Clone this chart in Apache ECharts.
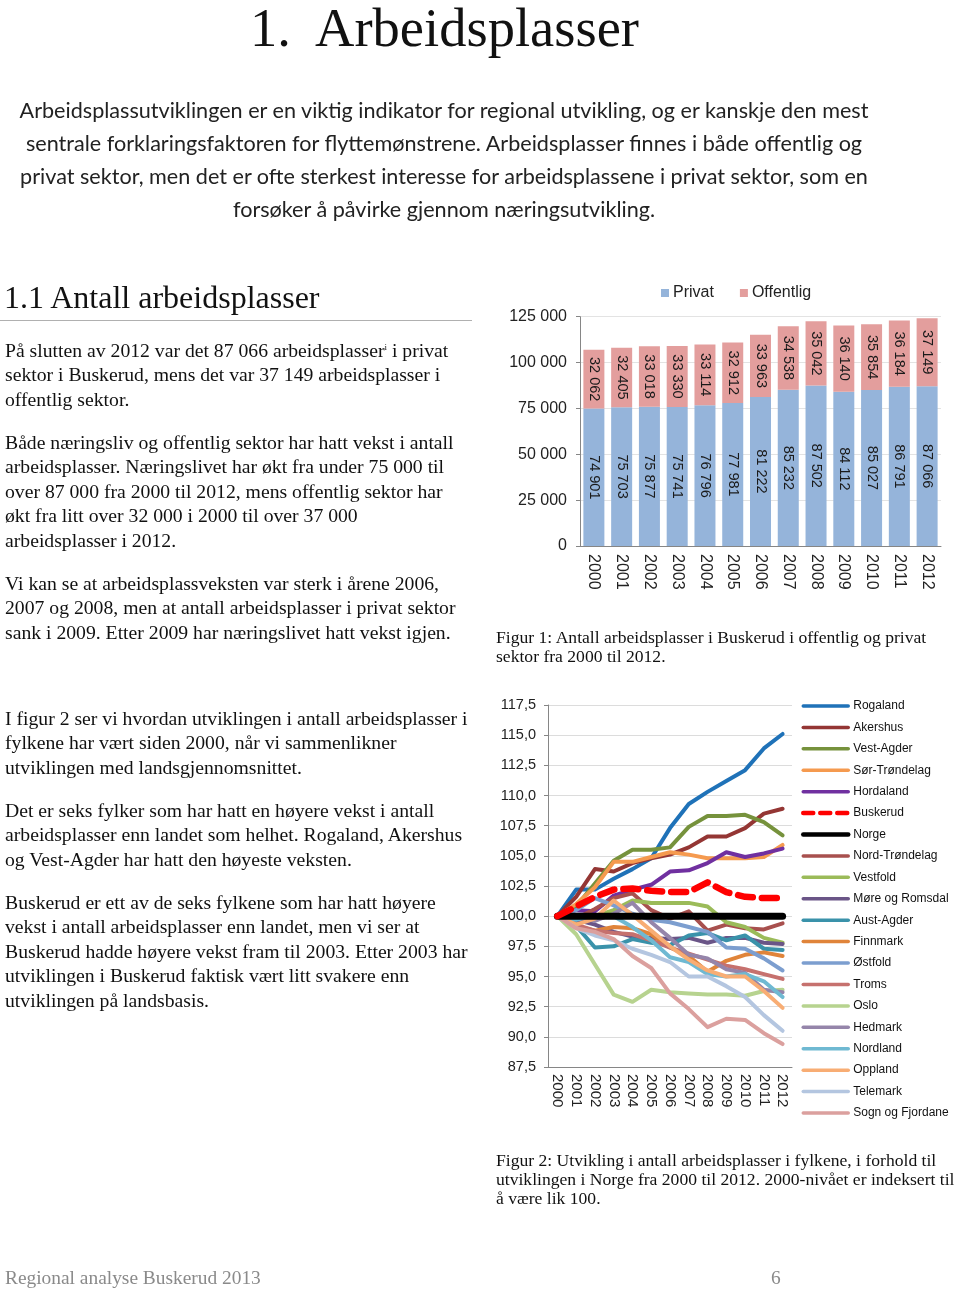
<!DOCTYPE html>
<html><head><meta charset="utf-8">
<script src="https://cdn.jsdelivr.net/npm/echarts@6/dist/echarts.min.js"></script>
<style>
html,body{margin:0;padding:0;background:#fff;}
#page{position:relative;width:960px;height:1289px;overflow:hidden;}
#c{position:absolute;left:0;top:0;width:960px;height:1289px;}
.t{position:absolute;white-space:nowrap;color:#111;}
.serif{font-family:"Liberation Serif","DejaVu Serif",serif;}
.body{font-size:19.7px;line-height:24.6px;}
.cap{font-size:17.6px;line-height:19px;}
.intro{font-family:Lato,"Open Sans",sans-serif;font-size:21.6px;color:#222;text-align:center;width:960px;left:-36px;}
</style></head>
<body><div id="page">
<div id="c"></div>

<div class="t serif" style="left:0;width:889px;text-align:center;top:-5px;font-size:54.5px;line-height:66px;color:#111;">1.&nbsp; Arbeidsplasser</div>

<div class="t intro" style="top:94px;line-height:33px;">Arbeidsplassutviklingen er en viktig indikator for regional utvikling, og er kanskje den mest<br>sentrale forklaringsfaktoren for flyttemønstrene. Arbeidsplasser finnes i både offentlig og<br>privat sektor, men det er ofte sterkest interesse for arbeidsplassene i privat sektor, som en<br>forsøker å påvirke gjennom næringsutvikling.</div>

<div class="t serif" style="left:4px;top:278px;font-size:32px;line-height:38px;">1.1 Antall arbeidsplasser</div>
<div style="position:absolute;left:0;top:320px;width:472px;height:1px;background:#b0b0b0;"></div>

<div class="t serif body" style="left:5px;top:337.7px;">På slutten av 2012 var det 87 066 arbeidsplasser<sup style="font-size:9px;vertical-align:7px;line-height:0">i</sup> i privat<br>sektor i Buskerud, mens det var 37 149 arbeidsplasser i<br>offentlig sektor.</div>
<div class="t serif body" style="left:5px;top:429.7px;">Både næringsliv og offentlig sektor har hatt vekst i antall<br>arbeidsplasser. Næringslivet har økt fra under 75 000 til<br>over 87 000 fra 2000 til 2012, mens offentlig sektor har<br>økt fra litt over 32 000 i 2000 til over 37 000<br>arbeidsplasser i 2012.</div>
<div class="t serif body" style="left:5px;top:570.7px;">Vi kan se at arbeidsplassveksten var sterk i årene 2006,<br>2007 og 2008, men at antall arbeidsplasser i privat sektor<br>sank i 2009. Etter 2009 har næringslivet hatt vekst igjen.</div>

<div class="t serif cap" style="left:496px;top:627.5px;">Figur 1: Antall arbeidsplasser i Buskerud i offentlig og privat<br>sektor fra 2000 til 2012.</div>

<div class="t serif body" style="left:5px;top:705.7px;">I figur 2 ser vi hvordan utviklingen i antall arbeidsplasser i<br>fylkene har vært siden 2000, når vi sammenlikner<br>utviklingen med landsgjennomsnittet.</div>
<div class="t serif body" style="left:5px;top:797.7px;">Det er seks fylker som har hatt en høyere vekst i antall<br>arbeidsplasser enn landet som helhet. Rogaland, Akershus<br>og Vest-Agder har hatt den høyeste veksten.</div>
<div class="t serif body" style="left:5px;top:889.7px;">Buskerud er ett av de seks fylkene som har hatt høyere<br>vekst i antall arbeidsplasser enn landet, men vi ser at<br>Buskerud hadde høyere vekst fram til 2003. Etter 2003 har<br>utviklingen i Buskerud faktisk vært litt svakere enn<br>utviklingen på landsbasis.</div>

<div class="t serif cap" style="left:496px;top:1150.5px;">Figur 2: Utvikling i antall arbeidsplasser i fylkene, i forhold til<br>utviklingen i Norge fra 2000 til 2012. 2000-nivået er indeksert til<br>å være lik 100.</div>

<div class="t serif" style="left:5px;top:1266px;font-size:19.4px;line-height:24px;color:#8a8a8a;">Regional analyse Buskerud 2013</div>
<div class="t serif" style="left:771px;top:1266px;font-size:19.4px;line-height:24px;color:#8a8a8a;">6</div>
</div>
<script>
// ---------- Figure 1 data ----------
const years = ['2000','2001','2002','2003','2004','2005','2006','2007','2008','2009','2010','2011','2012'];
const privat = [74901,75703,75877,75741,76796,77981,81222,85232,87502,84112,85027,86791,87066];
const offentlig = [32062,32405,33018,33330,33114,32912,33963,34538,35042,36140,35854,36184,37149];

// ---------- Figure 2 data (index, 2000 = 100) ----------
const rogaland      = [100,102.2,102.2,103.1,103.9,104.8,107.3,109.3,110.3,111.2,112.1,113.9,115.1];
const akershus      = [100,101.6,103.9,103.7,104.4,104.8,105.1,105.7,106.6,106.6,107.3,108.5,108.9];
const vestAgder     = [100,100.8,102.7,104.6,105.5,105.5,105.7,107.4,108.3,108.3,108.4,107.8,106.7];
const sorTrondelag  = [100,101.0,102.4,104.5,104.5,104.9,105.3,105.1,104.8,104.8,104.8,104.9,105.9];
const hordaland     = [100,100.5,100.4,101.7,102.2,102.6,103.7,103.8,104.4,105.3,104.9,105.2,105.6];
const buskerud      = [100,100.8,101.6,102.2,102.3,102.1,102.0,102.0,102.8,102.0,101.6,101.5,101.5];
const norge         = [100,100,100,100,100,100,100,100,100,100,100,100,100];
const nordTrondelag = [100,99.8,100.6,101.5,101.9,100.5,99.8,100.4,98.8,99.3,99.0,98.9,99.4];
const vestfold      = [100,99.6,100.0,100.5,101.3,101.1,101.1,101.1,100.8,99.5,99.1,98.2,97.8];
const moreRomsdal   = [100,99.7,99.3,98.7,98.3,98.2,98.1,98.2,97.8,98.2,98.2,97.8,97.7];
const austAgder     = [100,99.2,97.4,97.5,98.1,97.8,97.6,98.4,98.6,98.0,98.4,97.3,97.2];
const finnmark      = [100,99.2,98.8,99.1,99.0,98.5,97.4,96.7,95.4,96.3,96.8,97.0,96.7];
const ostfold       = [100,100.5,101.5,100.9,100.2,99.7,99.5,99.1,98.7,97.4,97.3,96.5,95.5];
const troms         = [100,99.3,98.8,98.6,98.5,98.0,97.4,96.9,96.4,95.9,95.6,95.2,94.8];
const oslo          = [100,98.5,96.0,93.5,92.9,93.9,93.7,93.6,93.5,93.5,93.4,93.8,93.9];
const hedmark       = [100,100.0,99.6,100.2,101.1,99.5,98.2,96.8,96.5,95.6,95.3,93.9,93.7];
const nordland      = [100,99.7,100.1,100.0,99.1,98.0,96.6,96.2,95.2,95.0,95.2,94.6,93.3];
const oppland       = [100,99.3,99.8,101.3,100.1,98.8,97.5,96.4,95.5,95.0,95.0,93.8,92.4];
const telemark      = [100,99.0,98.4,98.0,97.3,96.8,96.2,95.0,95.0,94.2,93.3,91.8,90.5];
const sognFjordane  = [100,99.0,98.7,98.1,96.7,95.7,93.6,92.3,90.8,91.5,91.4,90.3,89.4];

const regionNames = ['Rogaland','Akershus','Vest-Agder','Sør-Trøndelag','Hordaland','Buskerud','Norge','Nord-Trøndelag','Vestfold','Møre og Romsdal','Aust-Agder','Finnmark','Østfold','Troms','Oslo','Hedmark','Nordland','Oppland','Telemark','Sogn og Fjordane'];
const regionData = [rogaland,akershus,vestAgder,sorTrondelag,hordaland,buskerud,norge,nordTrondelag,vestfold,moreRomsdal,austAgder,finnmark,ostfold,troms,oslo,hedmark,nordland,oppland,telemark,sognFjordane];
const regionColors = ['#1f72b8','#943634','#76923c','#f59a4f','#7030a0','#ff0000','#000000','#a8504e','#9bbb59','#6a5587','#3a92aa','#e0843a','#7c9ecf','#c6716e','#b7d38f','#9585aa','#6fb9d2','#f8ad74','#b4c6e0','#dba09e'];

const SANS = '"Liberation Sans", Arial, sans-serif';
const fmt = v => String(v).replace(/\B(?=(\d{3})+(?!\d))/g, ' ');

const chart = echarts.init(document.getElementById('c'), null, {renderer:'canvas', width:960, height:1289});

const lineSeries = regionNames.map((name, i) => {
  const isB = name === 'Buskerud', isN = name === 'Norge';
  return {
    name, type:'line', xAxisIndex:1, yAxisIndex:1, data: regionData[i],
    symbol:'none', silent:true, z: isB ? 5 : (isN ? 4 : 3),
    lineStyle:{color: regionColors[i], width: isB ? 6.5 : (isN ? 7 : 4), type: isB ? [15,9] : 'solid', cap:'round', join:'round'},
    itemStyle:{color: regionColors[i]}
  };
});

const legendItems = regionNames.map(name => {
  if (name === 'Buskerud') return {name, lineStyle:{width:4.5, type:[10,7], cap:'round'}};
  if (name === 'Norge') return {name, lineStyle:{width:4.5, cap:'round'}};
  return {name, lineStyle:{width:3.5, cap:'round'}};
});

const option = {
  animation:false,
  legend:[
    {data:['Privat','Offentlig'], left:661, top:285, padding:0, icon:'rect', itemWidth:8, itemHeight:8, itemGap:26,
     textStyle:{fontFamily:SANS, fontSize:16, color:'#222', padding:[0,0,0,-1]}},
    {data:legendItems, orient:'vertical', left:801, top:700, padding:0, itemWidth:45, itemHeight:14, itemGap:9.42,
     itemStyle:{opacity:0, borderWidth:0}, lineStyle:{width:3.5, cap:'round'},
     textStyle:{fontFamily:SANS, fontSize:12, color:'#111', padding:[0,0,0,0]}}
  ],
  grid:[
    {left:580, top:316.7, width:361, height:229.3},
    {left:548, top:705, width:244, height:362}
  ],
  xAxis:[
    {gridIndex:0, type:'category', data:years,
     axisLine:{lineStyle:{color:'#868686'}}, axisTick:{length:4, lineStyle:{color:'#868686'}},
     axisLabel:{interval:0, rotate:-90, margin:8, fontFamily:SANS, fontSize:16, color:'#222'}},
    {gridIndex:1, type:'category', data:years,
     axisLine:{lineStyle:{color:'#868686'}}, axisTick:{interval:0, length:4, lineStyle:{color:'#868686'}},
     axisLabel:{interval:0, rotate:-90, margin:7, fontFamily:SANS, fontSize:15, color:'#222'}}
  ],
  yAxis:[
    {gridIndex:0, type:'value', min:0, max:125000, interval:25000,
     axisLine:{show:true, lineStyle:{color:'#868686'}}, axisTick:{show:true, length:4, lineStyle:{color:'#868686'}},
     splitLine:{lineStyle:{color:'#e3e3e3'}},
     axisLabel:{margin:13, fontFamily:SANS, fontSize:16, color:'#222', formatter: v => fmt(v)}},
    {gridIndex:1, type:'value', min:87.5, max:117.5, interval:2.5,
     axisLine:{show:true, lineStyle:{color:'#868686'}}, axisTick:{show:true, length:4, lineStyle:{color:'#868686'}},
     splitLine:{lineStyle:{color:'#dcdcdc'}},
     axisLabel:{margin:12, fontFamily:SANS, fontSize:14.5, color:'#222', formatter: v => v.toFixed(1).replace('.', ',')}}
  ],
  series:[
    {name:'Privat', type:'bar', stack:'tot', xAxisIndex:0, yAxisIndex:0, data:privat, barWidth:21,
     itemStyle:{color:'#95b4da'},
     label:{show:true, position:'inside', rotate:-90, fontFamily:SANS, fontSize:14.5, color:'#1a1a1a', formatter:p=>fmt(p.value)}},
    {name:'Offentlig', type:'bar', stack:'tot', xAxisIndex:0, yAxisIndex:0, data:offentlig, barWidth:21,
     itemStyle:{color:'#e39e9d'},
     label:{show:true, position:'inside', rotate:-90, fontFamily:SANS, fontSize:14.5, color:'#1a1a1a', formatter:p=>fmt(p.value)}},
    ...lineSeries
  ]
};
chart.setOption(option);
</script>
</body></html>
